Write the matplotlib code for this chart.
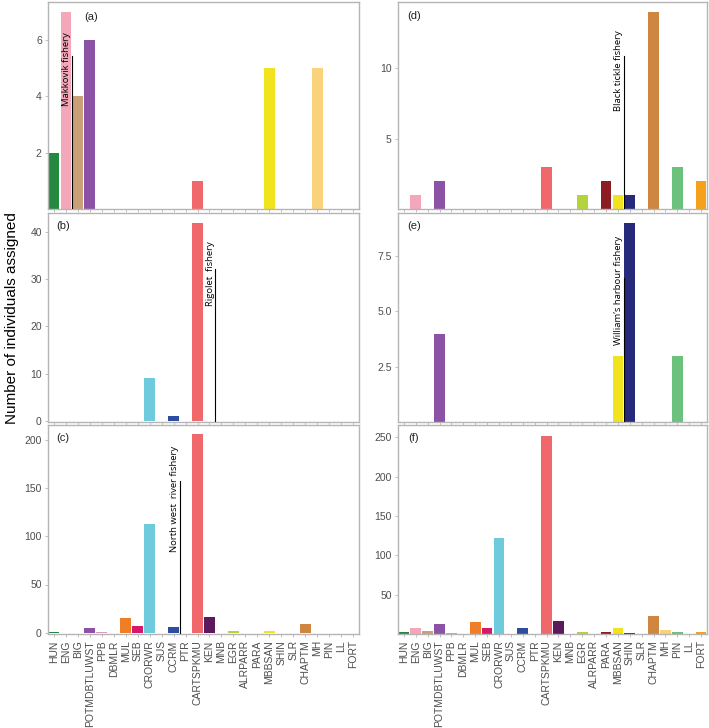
import matplotlib.pyplot as plt
import numpy as np

# reporting groups along the x axis
groups = ["HUN", "ENG", "BIG", "POTMDBTLUWST", "PPB", "DBMLR", "MUL", "SEB",
          "CRORWR", "SUS", "CCRM", "PTR", "CARTSPKMU", "KEN", "MNB", "EGR",
          "ALRPARR", "PARA", "MBBSAN", "SHIN", "SLR", "CHAPTM", "MH", "PIN",
          "LL", "FORT"]

group_colors = ["#24893F", "#F4A7B9", "#C9A077", "#8C52A6", "#D59BC9", "#999999",
                "#F07E26", "#D6186A", "#6ECBDC", "#AAAAAA", "#2E4D9E", "#BBBBBB",
                "#F0686B", "#5B1A5B", "#CCCCCC", "#B5D33C", "#DDDDDD", "#8C1C21",
                "#F1E41F", "#272A7B", "#EEEEEE", "#CF8640", "#FAD27B", "#6CC17D",
                "#F4B6B6", "#F6A11C"]

#                 HUN ENG BIG POT PPB DBM MUL SEB CRO SUS CCR PTR CAR KEN MNB EGR ALR PAR MBB SHI SLR CHA MH PIN LL FOR
counts_a = [2, 7, 4, 6, 0, 0, 0, 0, 0, 0, 0, 0, 1, 0, 0, 0, 0, 0, 5, 0, 0, 0, 5, 0, 0, 0]
counts_b = [0, 0, 0, 0, 0, 0, 0, 0, 9, 0, 1, 0, 42, 0, 0, 0, 0, 0, 0, 0, 0, 0, 0, 0, 0, 0]
counts_c = [1, 0, 0, 5, 1, 0, 15, 7, 113, 0, 6, 0, 206, 16, 0, 2, 0, 0, 2, 0, 0, 9, 0, 0, 0, 0]
counts_d = [0, 1, 0, 2, 0, 0, 0, 0, 0, 0, 0, 0, 3, 0, 0, 1, 0, 2, 1, 1, 0, 14, 0, 3, 0, 2]
counts_e = [0, 0, 0, 4, 0, 0, 0, 0, 0, 0, 0, 0, 0, 0, 0, 0, 0, 0, 3, 9, 0, 0, 0, 3, 0, 0]
counts_f = [3, 8, 4, 13, 1, 0, 15, 7, 122, 0, 7, 0, 252, 16, 0, 3, 0, 2, 8, 1, 0, 23, 5, 3, 0, 2]

# panel: (label, counts, ylim, yticks, ytick labels, fishery annotation)
panels = {
    "a": (counts_a, (0, 7.35), [2, 4, 6], ["2", "4", "6"],
          ("Makkovik fishery", 1.5, 5.45, 4.96)),
    "b": (counts_b, (-0.3, 44.1), [0, 10, 20, 30, 40], ["0", "10", "20", "30", "40"],
          ("Rigolet  fishery", 13.5, 32.3, 31.3)),
    "c": (counts_c, (-1.3, 215.3), [0, 50, 100, 150, 200], ["0", "50", "100", "150", "200"],
          ("North west  river fishery", 10.5, 157.7, 139)),
    "d": (counts_d, (0, 14.7), [5, 10], ["5", "10"],
          ("Black tickle fishery", 18.5, 10.87, 9.84)),
    "e": (counts_e, (0, 9.45), [2.5, 5.0, 7.5], ["2.5", "5.0", "7.5"],
          ("William\u2019s harbour fishery", 18.5, 6.5, 5.97)),
    "f": (counts_f, (0, 265.6), [50, 100, 150, 200, 250], ["50", "100", "150", "200", "250"],
          None),
}

W, H = 709, 728
fig = plt.figure(figsize=(W / 100, H / 100), dpi=100)

cols = {"left": (48, 359), "right": (398, 707)}
rows = [(2, 209), (213, 422), (425, 634)]
layout = {"a": ("left", 0), "b": ("left", 1), "c": ("left", 2),
          "d": ("right", 0), "e": ("right", 1), "f": ("right", 2)}
label_pos = {"a": (0.14, 0.927), "b": (0.05, 0.94), "c": (0.048, 0.938),
             "d": (0.053, 0.93), "e": (0.053, 0.94), "f": (0.049, 0.938)}

tick_grey = "#4D4D4D"
frame_grey = "#B5B5B5"
x = np.arange(len(groups))

for key, (counts, ylim, yticks, ylabels, note) in panels.items():
    col, row = layout[key]
    x0, x1 = cols[col]
    top, bot = rows[row]
    ax = fig.add_axes((x0 / W, (H - bot) / H, (x1 - x0) / W, (bot - top) / H))

    ax.bar(x, counts, width=0.9, color=group_colors, zorder=2)
    ax.set_xlim(-0.5, len(groups) - 0.5)
    ax.set_ylim(*ylim)
    ax.set_yticks(yticks)
    ax.set_yticklabels(ylabels, fontsize=7.5, color=tick_grey,
                       family="Liberation Sans")
    ax.set_xticks(x)
    if row == 2:
        ax.set_xticklabels(groups, rotation=90, fontsize=7.5, color=tick_grey,
                           family="Liberation Sans")
    else:
        ax.set_xticklabels([])
    ax.tick_params(length=2.5, width=0.6, color=frame_grey, pad=2)
    for sp in ax.spines.values():
        sp.set_color(frame_grey)
        sp.set_linewidth(1.0)

    ax.text(*label_pos[key], f"({key})", transform=ax.transAxes,
            fontsize=8, color="#222222", family="Liberation Sans",
            ha="center", va="center")

    if note is not None:
        text, lx, ltop, ty = note
        ax.plot([lx, lx], [0, ltop], color="black", lw=0.8, zorder=3)
        ax.text(lx - 0.08, ty, text, rotation=90, ha="right", va="center",
                fontsize=6.8, family="Open Sans", color="black", zorder=4)

fig.text(12 / W, 1 - 318 / H, "Number of individuals assigned", rotation=90,
         ha="center", va="center", fontsize=11, family="Liberation Sans")

fig.savefig("out.png", dpi=100)
